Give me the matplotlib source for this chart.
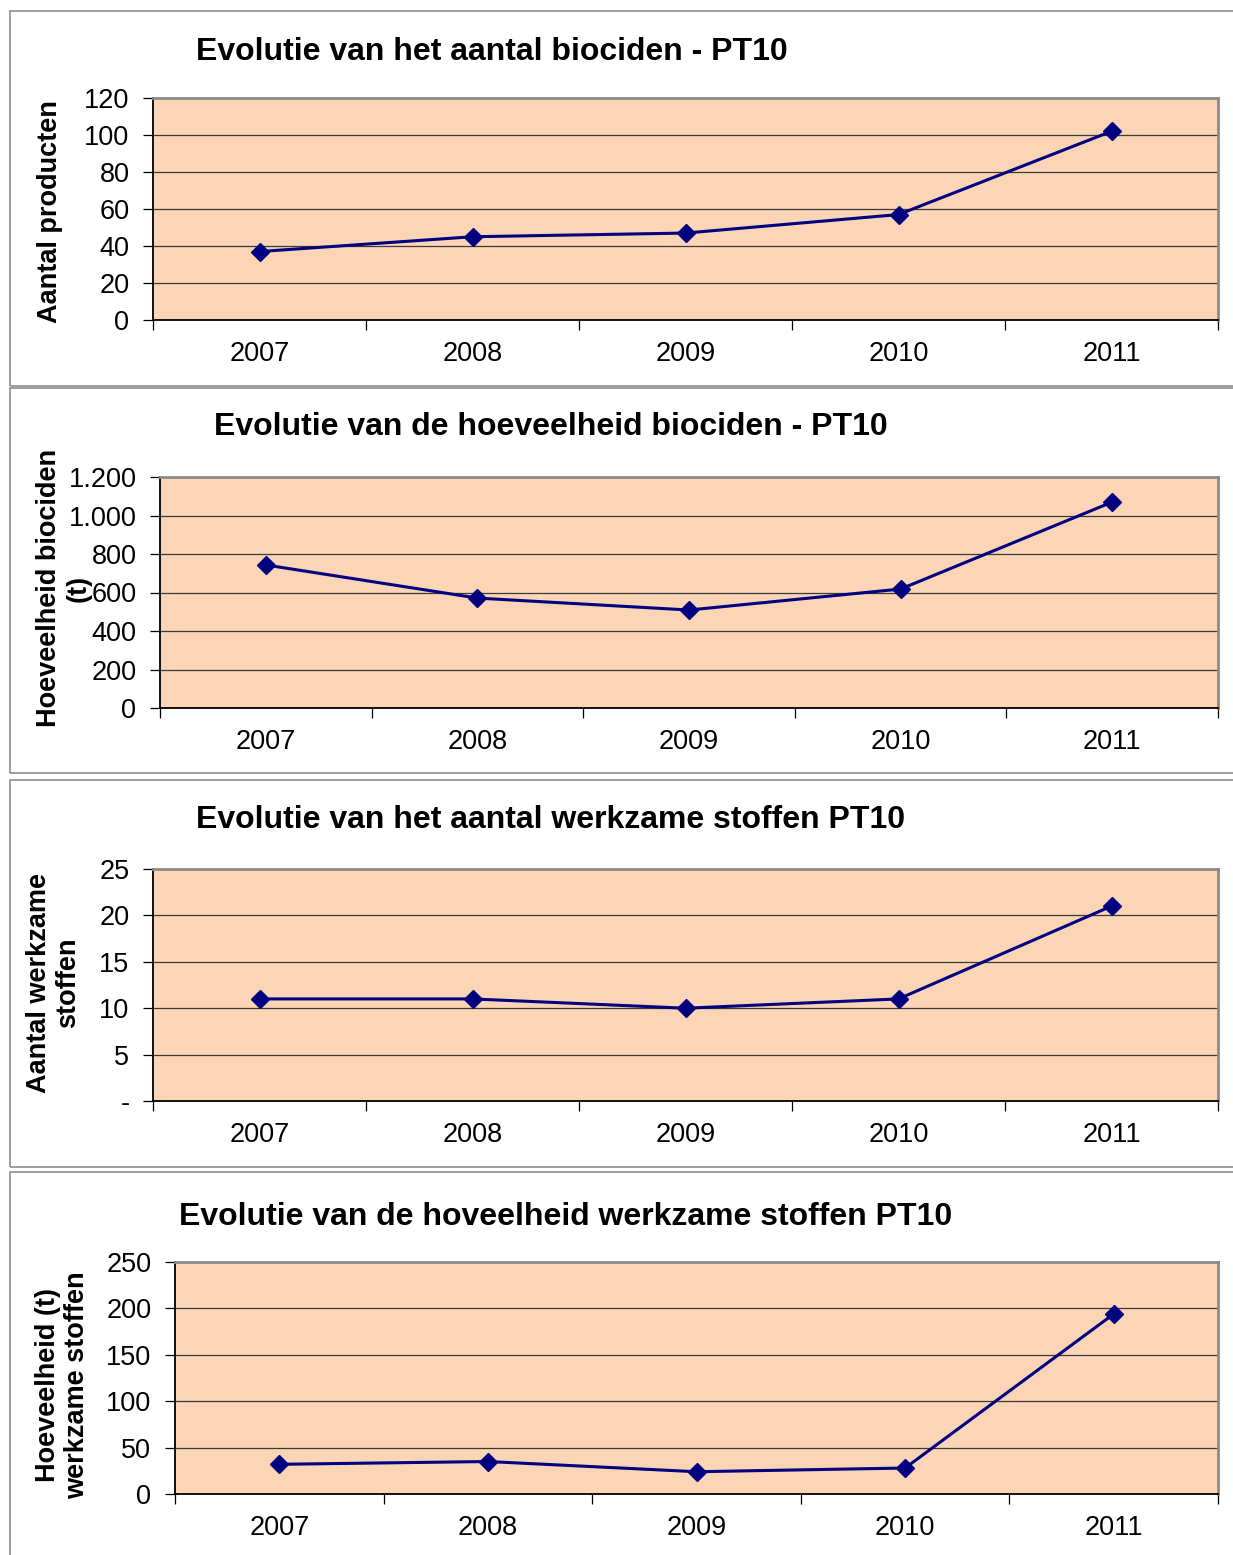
import matplotlib.pyplot as plt
from matplotlib.patches import Rectangle
from matplotlib.ticker import FixedLocator, FuncFormatter

plt.rcParams['font.family'] = ['Liberation Sans', 'DejaVu Sans']

years = ['2007', '2008', '2009', '2010', '2011']
aantal_biociden = [37, 45, 47, 57, 102]
hoeveelheid_biociden = [743, 571, 509, 618, 1070]
aantal_stoffen = [11, 11, 10, 11, 21]
hoeveelheid_stoffen = [32, 35, 24, 28, 194]

W, H = 1233, 1555
fig = plt.figure(figsize=(W / 100, H / 100), dpi=100)

def px(x0, y0, x1, y1):
    return [x0 / W, 1 - y1 / H, (x1 - x0) / W, (y1 - y0) / H]

# panel frames
for top, bot in [(11, 386), (388, 773), (780, 1167), (1172, 1580)]:
    fig.patches.append(Rectangle((10 / W, 1 - bot / H), 1.2, (bot - top) / H,
                                 transform=fig.transFigure, fill=False,
                                 edgecolor='#8c8c8c', lw=1.2))

def nl_fmt(v, pos):
    return f"{int(v):,}".replace(',', '.')

def dash_zero(v, pos):
    return '-' if v == 0 else f"{int(v)}"

panels = [
    dict(data=aantal_biociden, box=(153, 98, 1218, 320), ymax=120, step=20,
         title="Evolutie van het aantal biociden - PT10", tx=492, ty=52,
         ylabel="Aantal producten", lx=50, ly=212, fmt=None),
    dict(data=hoeveelheid_biociden, box=(160, 477, 1218, 708), ymax=1200, step=200,
         title="Evolutie van de hoeveelheid biociden - PT10", tx=551, ty=427,
         ylabel="Hoeveelheid biociden\n(t)", lx=64, ly=588, fmt=nl_fmt),
    dict(data=aantal_stoffen, box=(153, 869, 1218, 1101), ymax=25, step=5,
         title="Evolutie van het aantal werkzame stoffen PT10", tx=551, ty=820,
         ylabel="Aantal werkzame\nstoffen", lx=54, ly=983, fmt=dash_zero),
    dict(data=hoeveelheid_stoffen, box=(175, 1262, 1218, 1494), ymax=250, step=50,
         title="Evolutie van de hoveelheid werkzame stoffen PT10", tx=566, ty=1217,
         ylabel="Hoeveelheid (t)\nwerkzame stoffen", lx=63, ly=1385, fmt=None),
]

for p in panels:
    ax = fig.add_axes(px(*p['box']))
    ax.set_facecolor('#fbd5b5')
    x = [i + 0.5 for i in range(len(years))]
    ax.plot(x, p['data'], color='#000080', lw=2.2, marker='D', ms=9.5, zorder=3)
    ax.set_xlim(0, len(years))
    ax.set_ylim(0, p['ymax'])
    ax.set_yticks(range(0, p['ymax'] + 1, p['step']))
    if p['fmt']:
        ax.yaxis.set_major_formatter(FuncFormatter(p['fmt']))
    ax.grid(axis='y', color='#3a3a3a', lw=0.9)
    ax.set_axisbelow(True)
    ax.xaxis.set_major_locator(FixedLocator(range(len(years) + 1)))
    ax.set_xticklabels([])
    ax.set_xticks(x, minor=True)
    ax.set_xticklabels(years, minor=True)
    ax.tick_params(axis='x', which='major', length=7, width=0.9, direction='out')
    ax.tick_params(axis='x', which='minor', length=0, pad=15, labelsize=19.5)
    ax.tick_params(axis='y', length=7, width=0.9, direction='out', pad=10, labelsize=19.5)
    for s in ['top', 'right']:
        ax.spines[s].set_color('#8c8c8c')
        ax.spines[s].set_linewidth(2)
    for s in ['left', 'bottom']:
        ax.spines[s].set_color('black')
        ax.spines[s].set_linewidth(1.3)
    fig.text(p['tx'] / W, 1 - p['ty'] / H, p['title'], fontsize=23, fontweight='bold',
             ha='center', va='center')
    fig.text(p['lx'] / W, 1 - p['ly'] / H, p['ylabel'], fontsize=19.5, fontweight='bold',
             rotation=90, ha='center', va='center', multialignment='center',
             linespacing=1.15)

fig.savefig('out.png', dpi=100)
